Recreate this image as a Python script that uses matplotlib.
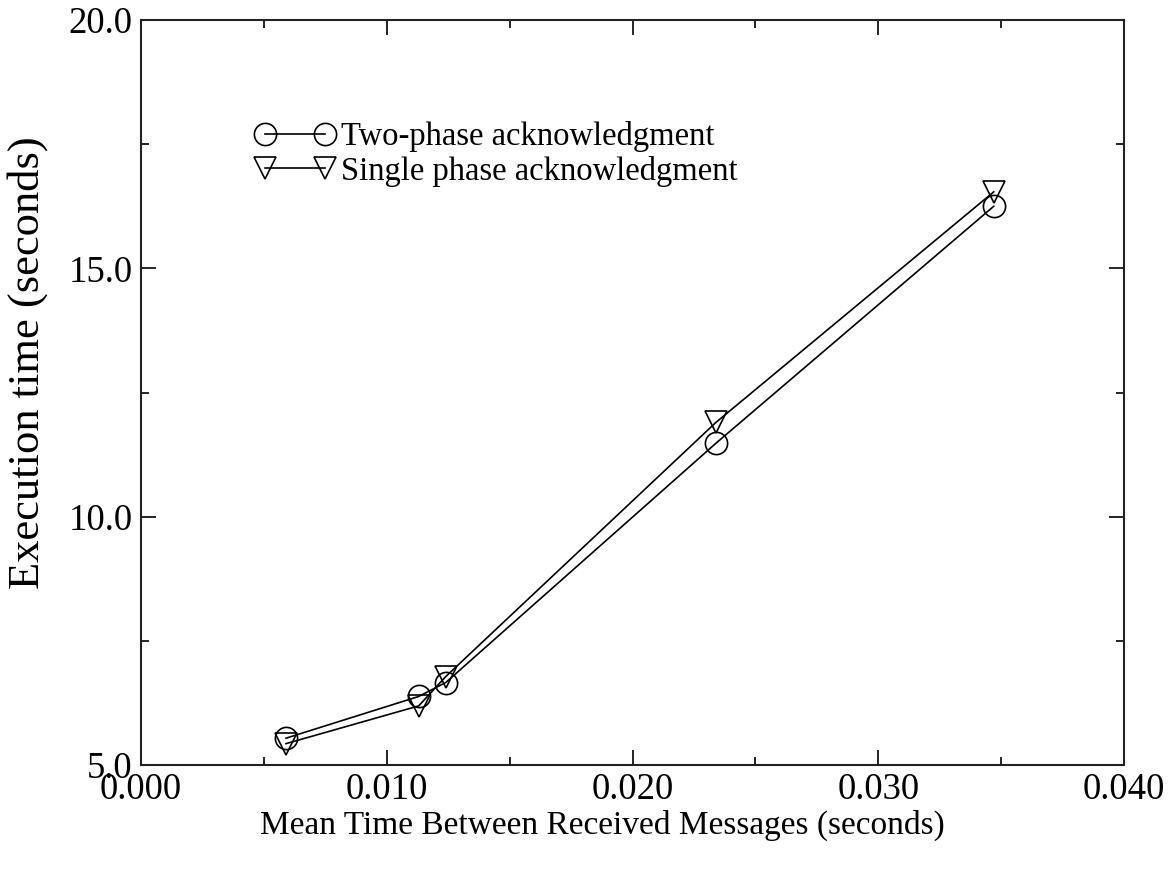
import matplotlib
matplotlib.use("Agg")
import matplotlib.pyplot as plt
from matplotlib.ticker import MultipleLocator, FormatStrFormatter

x_two = [0.0059, 0.0113, 0.0124, 0.0234, 0.0347]
y_two = [5.54, 6.38, 6.66, 11.48, 16.25]
x_single = [0.0059, 0.0113, 0.0124, 0.0234, 0.0347]
y_single = [5.43, 6.19, 6.78, 11.90, 16.54]
labels = ["Two-phase acknowledgment", "Single phase acknowledgment"]

plt.rcParams['font.family'] = ['Liberation Serif', 'DejaVu Serif']
fig = plt.figure(figsize=(11.75, 8.71), dpi=100)
ax = fig.add_axes([141/1175, 1-765/871, (1124-141)/1175, (765-20)/871])

ax.plot(x_two, y_two, color='black', lw=1.2, marker='o', ms=16, mfc='none',
        mec='black', mew=1.2, label=labels[0])
ax.plot(x_single, y_single, color='black', lw=1.2, marker='v', ms=16, mfc='none',
        mec='black', mew=1.2, label=labels[1])

ax.set_xlim(0, 0.04)
ax.set_ylim(5, 20)
ax.xaxis.set_major_locator(MultipleLocator(0.01))
ax.xaxis.set_minor_locator(MultipleLocator(0.005))
ax.yaxis.set_major_locator(MultipleLocator(5))
ax.yaxis.set_minor_locator(MultipleLocator(2.5))
ax.xaxis.set_major_formatter(FormatStrFormatter('%.3f'))
ax.yaxis.set_major_formatter(FormatStrFormatter('%.1f'))
ax.tick_params(which='both', direction='in', top=True, right=True, width=1.2,
               labelsize=26.5)
ax.tick_params(axis='x', pad=5.5)
ax.tick_params(axis='y', pad=6)
ax.tick_params(which='major', length=11)
ax.tick_params(which='minor', length=6)
for s in ax.spines.values():
    s.set_linewidth(1.5)
    s.set_color('#222222')

ax.set_xlabel("Mean Time Between Received Messages (seconds)", fontsize=24, va='center')
ax.xaxis.set_label_coords((602-141)/983, -(825-765)/745)
ax.set_ylabel("Execution time (seconds)", fontsize=32, va='center')
ax.yaxis.set_label_coords(-(141-28)/983, (765-363)/745)

leg = ax.legend(loc='upper left', bbox_to_anchor=(255/1175, 1-121/871),
                bbox_transform=fig.transFigure, frameon=False, numpoints=2,
                fontsize=23.5, handlelength=2.45, handletextpad=0.2,
                labelspacing=0.12, borderpad=0, borderaxespad=0)

fig.savefig("out.png", dpi=100)
